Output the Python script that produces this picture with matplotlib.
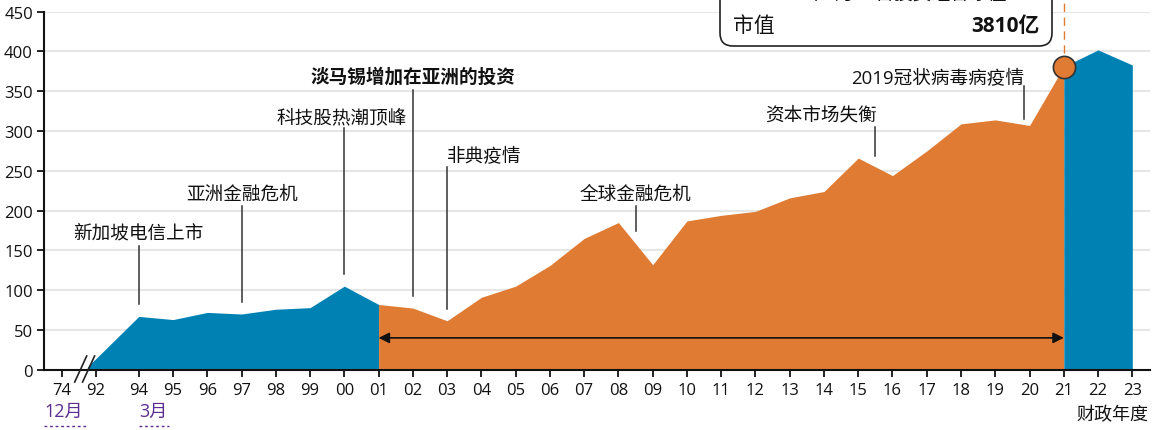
import matplotlib
matplotlib.use("Agg")
import matplotlib.pyplot as plt
from matplotlib.patches import FancyBboxPatch, Polygon
from matplotlib.transforms import IdentityTransform
import numpy as np

plt.rcParams['font.family'] = ['Open Sans', 'Noto Sans CJK SC', 'DejaVu Sans']

# ---------------- data ----------------
fy_labels = ['74', '92', '94', '95', '96', '97', '98', '99', '00', '01',
             '02', '03', '04', '05', '06', '07', '08', '09', '10', '11',
             '12', '13', '14', '15', '16', '17', '18', '19', '20', '21',
             '22', '23']
fy_years = [1974, 1992, 1994, 1995, 1996, 1997, 1998, 1999, 2000, 2001,
            2002, 2003, 2004, 2005, 2006, 2007, 2008, 2009, 2010, 2011,
            2012, 2013, 2014, 2015, 2016, 2017, 2018, 2019, 2020, 2021,
            2022, 2023]
fy_end_month = [12, 12] + [3] * 30
portfolio_value = [1, 14, 67, 63, 72, 70, 76, 78, 105, 82,
                   77.5, 61.5, 91, 105, 131, 165, 185, 132, 187, 194,
                   199, 216, 224, 266, 244, 275, 309, 314, 307, 381,
                   402, 383]

event_labels = ['新加坡电信上市', '亚洲金融危机', '科技股热潮顶峰', '淡马锡增加在亚洲的投资',
                '非典疫情', '全球金融危机', '资本市场失衡', '2019冠状病毒病疫情']
event_dates = [(1994, 3), (1997, 3), (2000, 3), (2002, 3),
               (2003, 3), (2008, 9), (2015, 9), (2020, 1)]

highlight_label = '市值'
highlight_value = '3810亿'
highlight_title = '2021年3月31日投资组合净值'

BLUE = '#0081b4'
ORANGE = '#e07b34'
PURPLE = '#5c2d91'

# ---------------- positions (broken time axis) ----------------
def date_pos(y, m):
    return y + m / 12.0

pos92 = date_pos(1992, 12)
pos = []
for y, m in zip(fy_years, fy_end_month):
    if y < 1992:
        pos.append(pos92 - 1.0)   # compressed across the axis break
    else:
        pos.append(date_pos(y, m))
pos = np.array(pos)
vals = np.array(portfolio_value, dtype=float)

i01 = fy_labels.index('01')
i21 = fy_labels.index('21')

fig = plt.figure(figsize=(11.54, 4.31), dpi=100)
ax = fig.add_axes([44 / 1154, (431 - 370.7) / 431, (1150 - 44) / 1154, 358 / 431])
ax.set_xlim(pos[0] - 0.516, pos[-1] + 0.516)
ax.set_ylim(0, 450)

# grid
for g in range(50, 451, 50):
    ax.axhline(g, color='#e6e6e6', lw=1.5, zorder=0)

# first blue segment (with break)
bc = pos92 - 0.33
bx = np.concatenate([[pos[0], bc], pos[1:i01 + 1]])
by = np.concatenate([[vals[0], vals[0]], vals[1:i01 + 1]])
ax.fill_between(bx, 0, by, color=BLUE, lw=0, zorder=1)
# orange segment
ax.fill_between(pos[i01:i21 + 1], 0, vals[i01:i21 + 1], color=ORANGE, lw=0, zorder=1)
# last blue segment
ax.fill_between(pos[i21:], 0, vals[i21:], color=BLUE, lw=0, zorder=1)

# axis break mask + marks
yb0, yb1 = -15.5, 17.2
mask = Polygon([[pos92 - 0.62 + 0.03, yb0], [pos92 - 0.27 + 0.03, yb1],
                [pos92 - 0.04 - 0.03, yb1], [pos92 - 0.39 - 0.03, yb0]],
               closed=True, fc='white', ec='none', zorder=2, clip_on=False)
ax.add_patch(mask)
for dx in (0.0, 0.23):
    ax.plot([pos92 - 0.62 + dx, pos92 - 0.27 + dx], [yb0, yb1], color='#222222',
            lw=1.2, zorder=3, clip_on=False)

# spines / ticks
for s in ('top', 'right'):
    ax.spines[s].set_visible(False)
for s in ('left', 'bottom'):
    ax.spines[s].set_linewidth(1.5)
    ax.spines[s].set_color('#111111')
ax.set_yticks(range(0, 451, 50))
ax.set_xticks(pos)
ax.set_xticklabels(fy_labels)
ax.tick_params(axis='both', labelsize=12, length=5, width=1.3, color='#111111',
               labelcolor='#111111')
ax.tick_params(axis='x', pad=3.5)
ax.tick_params(axis='y', pad=3)

# arrow spanning 01 -> 21
ax.annotate('', xy=(pos[i21], 40), xytext=(pos[i01], 40),
            arrowprops=dict(arrowstyle='<|-|>', color='#111111', lw=1.2,
                            mutation_scale=16, shrinkA=0, shrinkB=0), zorder=4)

# dashed line + marker at 21
ax.plot([pos[i21], pos[i21]], [vals[i21], 475], color=ORANGE, lw=1,
        dashes=(6, 4), zorder=4, clip_on=False)
ax.plot(pos[i21], vals[i21], 'o', ms=16, mfc=ORANGE, mec='#333333', mew=1.2,
        zorder=5, clip_on=False)

# event annotations
def pxv(py):
    return (370.7 - py) / 0.7956

ev_style = {
    0: dict(ha='center', dx=0.0, ty=233, l0=247, l1=305, bold=False),
    1: dict(ha='center', dx=0.0, ty=195, l0=207, l1=303, bold=False),
    2: dict(ha='right', dx=1.84, ty=118, l0=129, l1=275, bold=False),
    3: dict(ha='center', dx=0.0, ty=78, l0=91, l1=297, bold=True),
    4: dict(ha='left', dx=0.0, ty=156, l0=168, l1=310, bold=False),
    5: dict(ha='center', dx=0.0, ty=195, l0=207, l1=232, bold=False),
    6: dict(ha='right', dx=0.03, ty=115, l0=128, l1=157, bold=False),
    7: dict(ha='right', dx=0.0, ty=78, l0=87, l1=120, bold=False),
}
for k, (lab, (yy, mm)) in enumerate(zip(event_labels, event_dates)):
    st = ev_style[k]
    x = date_pos(yy, mm)
    ax.plot([x, x], [pxv(st['l0']), pxv(st['l1'])], color='#333333', lw=1.1, zorder=3)
    ax.text(x + st['dx'], pxv(st['ty']), lab, ha=st['ha'], va='center', fontsize=13.4,
            color='#111111', fontweight='bold' if st['bold'] else 'normal', zorder=4)

# month labels under axis
fig.text(44 / 1154, 1 - 412 / 431, '12月', ha='left', va='center', fontsize=13,
         color=PURPLE)
x94 = ax.transData.transform((pos[2], 0))[0]
fig.text(x94 / 1154, 1 - 412 / 431, '3月', ha='left', va='center', fontsize=13,
         color=PURPLE)
fig.add_artist(plt.Line2D([44 / 1154, 88 / 1154], [1 - 427 / 431] * 2, color=PURPLE,
                          lw=1, ls=(0, (2, 2)), transform=fig.transFigure))
fig.add_artist(plt.Line2D([x94 / 1154, (x94 + 30) / 1154], [1 - 427 / 431] * 2,
                          color=PURPLE, lw=1, ls=(0, (2, 2)), transform=fig.transFigure))
fig.text(1148 / 1154, 1 - 415 / 431, '财政年度', ha='right', va='center', fontsize=13,
         color='#111111')

# tooltip box
box = FancyBboxPatch((720, 431 - 47), 332, 90,
                     boxstyle='round,pad=0,rounding_size=13',
                     transform=IdentityTransform(), fc='white', ec='#222222', lw=1.2,
                     zorder=10)
fig.add_artist(box)
fig.text(733 / 1154, 1 - 27 / 431, highlight_label, ha='left', va='center', fontsize=15,
         color='#111111', zorder=11)
fig.text(1040 / 1154, 1 - 27 / 431, highlight_value, ha='right', va='center',
         fontsize=15, fontweight='bold', color='#111111', zorder=11)
fig.text(885 / 1154, 1 + 4 / 431, highlight_title, ha='center', va='center',
         fontsize=13.5, color='#111111', zorder=11)

fig.savefig('out.png', dpi=100)
